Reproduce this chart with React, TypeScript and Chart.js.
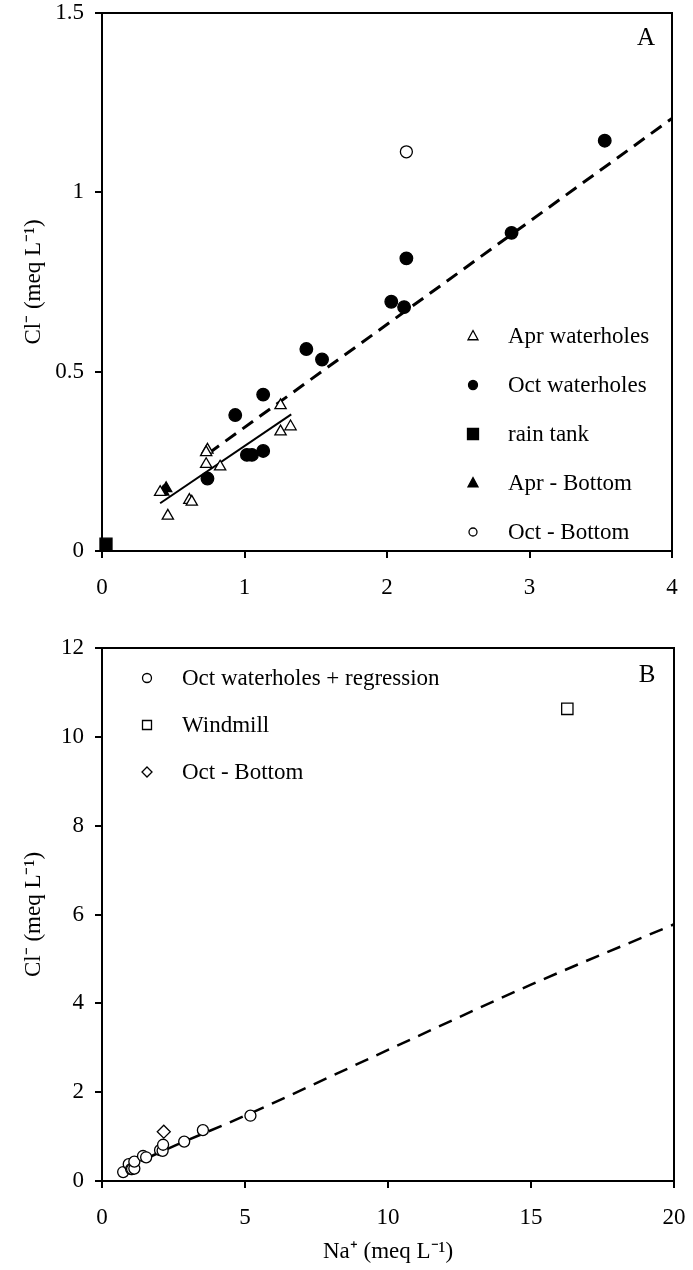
import React, { useEffect, useRef } from 'react';
import { Chart, registerables } from 'chart.js';

Chart.register(...registerables);

// ---------- Panel A data (Na+ vs Cl-, meq/L) ----------
const aprWaterholesNa = [1.253, 1.253, 1.323, 0.74, 0.731, 0.731, 0.829, 0.408, 0.613, 0.63, 0.462];
const aprWaterholesCl = [0.406, 0.333, 0.347, 0.282, 0.275, 0.242, 0.235, 0.164, 0.142, 0.137, 0.098];
const octWaterholesNa = [0.74, 0.935, 1.017, 1.052, 1.131, 1.131, 1.434, 1.544, 2.03, 2.12, 2.136, 2.874, 3.528];
const octWaterholesCl = [0.202, 0.379, 0.268, 0.268, 0.279, 0.436, 0.563, 0.534, 0.695, 0.68, 0.816, 0.887, 1.144];
const rainTankNa = [0.028];
const rainTankCl = [0.019];
const aprBottomNa = [0.43, 0.45];
const aprBottomCl = [0.165, 0.175];
const octBottomNa = [2.136];
const octBottomCl = [1.113];
const aprFitNa = [0.408, 1.328];
const aprFitCl = [0.133, 0.381];
const octFitNa = [0.747, 4.0];
const octFitCl = [0.272, 1.206];
const xTicksA = [0, 1, 2, 3, 4];
const yTicksA = [0, 0.5, 1, 1.5];

// ---------- Panel B data ----------
const octWaterholesBNa = [0.74, 0.935, 1.017, 1.052, 1.131, 1.131, 1.434, 1.544, 2.03, 2.12, 2.136, 2.874, 3.528, 5.19];
const octWaterholesBCl = [0.202, 0.379, 0.268, 0.268, 0.279, 0.436, 0.563, 0.534, 0.695, 0.68, 0.816, 0.887, 1.144, 1.47];
const windmillNa = [16.27];
const windmillCl = [10.63];
const octBottomBNa = [2.16];
const octBottomBCl = [1.11];
const regressionBNa = [0.8, 2, 5, 10, 15, 20];
const regressionBCl = [0.27, 0.64, 1.47, 2.95, 4.42, 5.78];
const xTicksB = [0, 5, 10, 15, 20];
const yTicksB = [0, 2, 4, 6, 8, 10, 12];

const FONT = 'Liberation Serif, "Times New Roman", serif';
const Y_TITLE = 'Cl\u207B (meq L\u207B\u00B9)';
const X_TITLE = 'Na\u207A (meq L\u207B\u00B9)';

const pts = (xs: number[], ys: number[]) => xs.map((x, i) => ({ x, y: ys[i] }));

function drawMarker(ctx: CanvasRenderingContext2D, style: string, x: number, y: number, r: number, fill: string, stroke: string, lw: number) {
  ctx.beginPath();
  if (style === 'circle') {
    ctx.arc(x, y, r, 0, Math.PI * 2);
  } else if (style === 'rect') {
    ctx.rect(x - r, y - r, 2 * r, 2 * r);
  } else if (style === 'triangle') {
    ctx.moveTo(x, y - r * 1.1);
    ctx.lineTo(x + r, y + r * 0.75);
    ctx.lineTo(x - r, y + r * 0.75);
    ctx.closePath();
  } else if (style === 'rectRot') {
    ctx.moveTo(x, y - r);
    ctx.lineTo(x + r, y);
    ctx.lineTo(x, y + r);
    ctx.lineTo(x - r, y);
    ctx.closePath();
  }
  ctx.fillStyle = fill;
  ctx.fill();
  ctx.lineWidth = lw;
  ctx.strokeStyle = stroke;
  ctx.stroke();
}

const insideLegend = {
  id: 'insideLegend',
  afterDatasetsDraw(chart: any, _args: any, opts: any) {
    const ctx = chart.ctx as CanvasRenderingContext2D;
    ctx.save();
    const items = opts.items as { index: number; size: number }[];
    items.forEach((it, i) => {
      const ds: any = chart.data.datasets[it.index];
      const y = opts.y0 + i * opts.dy;
      drawMarker(ctx, ds.pointStyle, opts.markerX, y, it.size, ds.backgroundColor, ds.borderColor, 1.3);
      ctx.fillStyle = '#000';
      ctx.font = `${opts.fontSize}px ${FONT}`;
      ctx.textBaseline = 'middle';
      ctx.textAlign = 'left';
      ctx.fillText(ds.label, opts.textX, y + 1);
    });
    ctx.restore();
  },
};

const frame = {
  id: 'frame',
  afterDraw(chart: any, _args: any, opts: any) {
    const ctx = chart.ctx as CanvasRenderingContext2D;
    const { left, top, right, bottom } = chart.chartArea;
    ctx.save();
    ctx.strokeStyle = '#000';
    ctx.lineWidth = 2;
    ctx.beginPath();
    ctx.moveTo(left - 1, top);
    ctx.lineTo(right, top);
    ctx.lineTo(right, bottom + 1);
    ctx.stroke();
    ctx.fillStyle = '#000';
    ctx.font = `${opts.fontSize}px ${FONT}`;
    ctx.textAlign = 'center';
    ctx.textBaseline = 'middle';
    ctx.fillText(opts.letter, opts.x, opts.y);
    ctx.restore();
  },
};

function scatterSet(label: string, xs: number[], ys: number[], style: string, radius: number, fill: string) {
  return {
    label,
    data: pts(xs, ys),
    pointStyle: style,
    pointRadius: radius,
    pointBorderWidth: 1.3,
    backgroundColor: fill,
    borderColor: '#000',
    showLine: false,
    clip: false as any,
  };
}

function lineSet(xs: number[], ys: number[], dash: number[], width: number, curve = false) {
  return {
    label: '',
    data: pts(xs, ys),
    showLine: true,
    borderColor: '#000',
    backgroundColor: '#000',
    borderWidth: width,
    borderDash: dash,
    pointRadius: 0,
    fill: false,
    cubicInterpolationMode: curve ? ('monotone' as const) : ('default' as const),
  };
}

function axes(xTicks: number[], yTicks: number[], xTitle: string | null, xHeight: number) {
  const tickFont = { family: FONT, size: 23 };
  const common = {
    type: 'linear' as const,
    grid: { display: true, drawOnChartArea: false, drawTicks: true, tickLength: 7, tickWidth: 2, tickColor: '#000', lineWidth: 0 },
    border: { display: true, color: '#000', width: 2 },
  };
  return {
    x: {
      ...common,
      min: xTicks[0],
      max: xTicks[xTicks.length - 1],
      afterBuildTicks: (s: any) => { s.ticks = xTicks.map((v) => ({ value: v })); },
      ticks: { font: tickFont, color: '#000', padding: 16, maxRotation: 0, callback: (v: any) => String(v) },
      title: xTitle
        ? { display: true, text: xTitle, font: { family: FONT, size: 23 }, color: '#000', padding: { top: 0, bottom: 4 } }
        : { display: false },
      afterFit: (s: any) => { s.height = xHeight; s.paddingLeft = 0; s.paddingRight = 0; },
    },
    y: {
      ...common,
      min: yTicks[0],
      max: yTicks[yTicks.length - 1],
      afterBuildTicks: (s: any) => { s.ticks = yTicks.map((v) => ({ value: v })); },
      ticks: { font: tickFont, color: '#000', padding: 11, callback: (v: any) => String(v) },
      title: { display: true, text: Y_TITLE, font: { family: FONT, size: 23 }, color: '#000', padding: { top: 20, bottom: 0 } },
      afterFit: (s: any) => { s.width = 102; s.paddingTop = 0; s.paddingBottom = 0; },
    },
  };
}

function useChart(ref: React.RefObject<HTMLCanvasElement>, build: () => any) {
  useEffect(() => {
    if (!ref.current) return;
    const chart = new Chart(ref.current, build());
    return () => chart.destroy();
  }, []);
}

export default function App() {
  const refA = useRef<HTMLCanvasElement>(null);
  const refB = useRef<HTMLCanvasElement>(null);

  useChart(refA, () => ({
    type: 'scatter',
    data: {
      datasets: [
        scatterSet('Apr waterholes', aprWaterholesNa, aprWaterholesCl, 'triangle', 6.5, '#fff'),
        scatterSet('Oct waterholes', octWaterholesNa, octWaterholesCl, 'circle', 6.3, '#000'),
        scatterSet('rain tank', rainTankNa, rainTankCl, 'rect', 8.5, '#000'),
        scatterSet('Apr - Bottom', aprBottomNa, aprBottomCl, 'triangle', 6.5, '#000'),
        scatterSet('Oct - Bottom', octBottomNa, octBottomCl, 'circle', 6, '#fff'),
        lineSet(aprFitNa, aprFitCl, [], 2),
        lineSet(octFitNa, octFitCl, [13, 8], 3),
      ],
    },
    options: {
      responsive: false,
      animation: false,
      layout: { padding: { top: 13, right: 21, left: 0, bottom: 0 } },
      scales: axes(xTicksA, yTicksA, null, 59),
      plugins: {
        legend: { display: false },
        tooltip: { enabled: false },
        insideLegend: {
          markerX: 473, textX: 508, y0: 336, dy: 49, fontSize: 23,
          items: [
            { index: 0, size: 5 },
            { index: 1, size: 4.5 },
            { index: 2, size: 5.5 },
            { index: 3, size: 5 },
            { index: 4, size: 4 },
          ],
        },
        frame: { letter: 'A', x: 646, y: 38, fontSize: 25 },
      },
    },
    plugins: [insideLegend, frame],
  }));

  useChart(refB, () => ({
    type: 'scatter',
    data: {
      datasets: [
        scatterSet('Oct waterholes + regression', octWaterholesBNa, octWaterholesBCl, 'circle', 5.5, '#fff'),
        scatterSet('Windmill', windmillNa, windmillCl, 'rect', 8, '#fff'),
        scatterSet('Oct - Bottom', octBottomBNa, octBottomBCl, 'rectRot', 6.5, '#fff'),
        lineSet(regressionBNa, regressionBCl, [14, 9], 2.5, true),
      ],
    },
    options: {
      responsive: false,
      animation: false,
      layout: { padding: { top: 38, right: 19, left: 0, bottom: 0 } },
      scales: axes(xTicksB, yTicksB, X_TITLE, 89),
      plugins: {
        legend: { display: false },
        tooltip: { enabled: false },
        insideLegend: {
          markerX: 147, textX: 182, y0: 68, dy: 47, fontSize: 23,
          items: [
            { index: 0, size: 4.5 },
            { index: 1, size: 4.5 },
            { index: 2, size: 5 },
          ],
        },
        frame: { letter: 'B', x: 647, y: 65, fontSize: 25 },
      },
    },
    plugins: [insideLegend, frame],
  }));

  return (
    <div style={{ position: 'absolute', left: 0, top: 0, width: 693, height: 1270, background: '#fff' }}>
      <canvas ref={refA} width={693} height={610} style={{ position: 'absolute', left: 0, top: 0, display: 'block' }} />
      <canvas ref={refB} width={693} height={660} style={{ position: 'absolute', left: 0, top: 610, display: 'block' }} />
    </div>
  );
}
